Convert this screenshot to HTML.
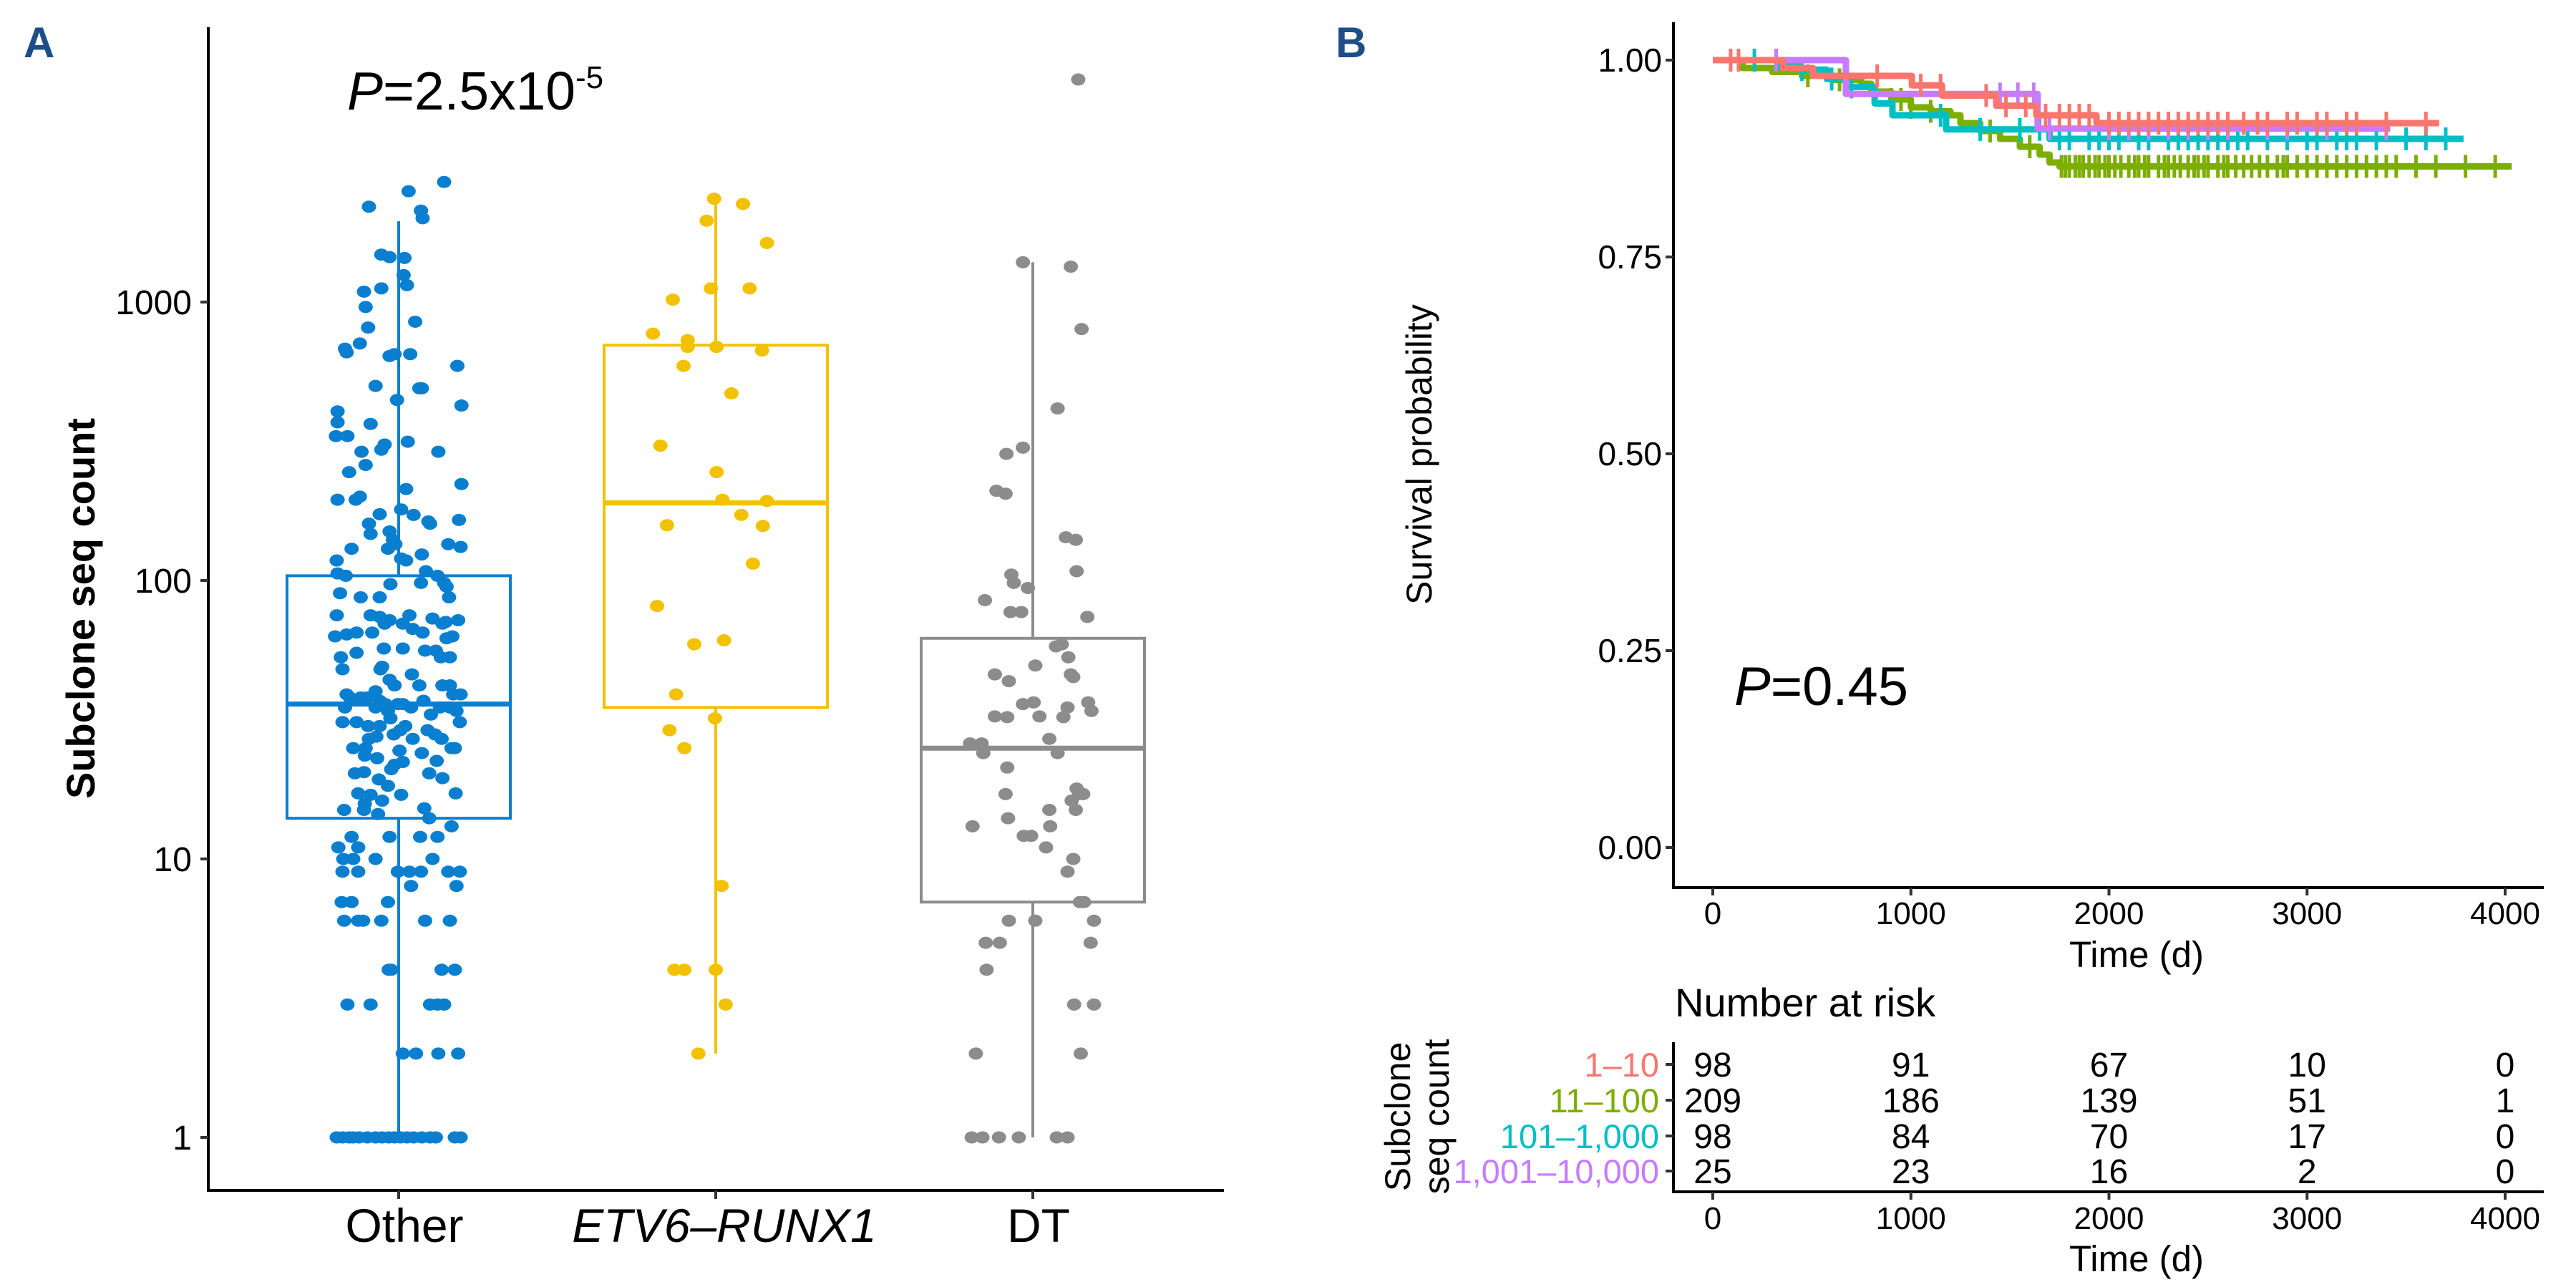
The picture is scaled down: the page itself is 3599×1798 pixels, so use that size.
<!DOCTYPE html>
<html><head><meta charset="utf-8"><style>
html,body{margin:0;padding:0;background:#fff;}
svg{display:block;font-family:"Liberation Sans",Arial,sans-serif;}
</style></head><body>
<svg id="fig" width="3599" height="1798" viewBox="0 0 3599 1798" xmlns="http://www.w3.org/2000/svg">
<rect width="3599" height="1798" fill="#fff"/>
<text x="33" y="80" font-size="60" font-weight="bold" fill="#1d4e89" font-family="Liberation Sans,sans-serif">A</text>
<text x="1866" y="80" font-size="60" font-weight="bold" fill="#1d4e89" font-family="Liberation Sans,sans-serif">B</text>
<g id="panelA"></g>
<g id="panelB"></g>
<g id="risk"></g>
</svg>
<script>
// ---------- Panel A data ----------
const categories = ["Other","ETV6\u2013RUNX1","DT"];
const catColors = ["#0a7fd0","#f2c200","#8c8c8c"];
const yTicks = [1,10,100,1000];
// box stats: [whiskerLow, q1, median, q3, whiskerHigh]
const boxOther = [1,14,36,104,1950];
const boxEtv = [2,35,190,700,2340];
const boxDt = [1,7,25,62,1390];
const otherValues = [2700,2500,2200,2130,2000,1480,1450,1440,1250,1150,1120,1090,960,850,810,710,680,660,650,650,640,590,500,490,490,445,425,405,370,365,315,330,330,308,295,290,290,260,245,222,213,195,200,195,180,173,172,165,163,160,160,147,150,135,140,132,130,130,135,124,120,118,118,108,106,104,104,97,98,98,95,90,87,87,87,75,75,74,75,73,72,72,70,71,70,70,67,65,65,64,65,63,63,62,57,57,56,56,55,53,53,53,49,48,48,46,44,42,42,42,42,40,39,39,39,38,38,38,37,37,36,36,36,35,35,35,35,35,34,34,32,33,31,31,31,30,30,29,29,28,30,28,27,27,27,27.5,25,25,25,25,24,24.5,23.5,23,22.5,22.3,21.8,21,20.5,20.3,20.3,19.5,19.3,18.3,17.2,17.2,17,17,16.2,15.8,15.2,15,15,14.5,14,13.1,12,12,12,12,11,11,10,10,10,10,9,9,9,9,9,9,9,8,8,7,7,7,6,6,6,6,6,6,4,4,4,4,3,3,3,3,3,2,2,2,2,1,1,1,1,1,1,1,1,1,1,1,1,1,1,1,1,1,1];
const otherJitter = [55,12,-36,27,29,-21,-11,7,6,10,-21,-42,-40,20,-37,-47,-65,-63,-5,14,-11,71,-28,25,28,-2,76,-74,-74,-34,11,-76,-62,-17,-21,-45,48,-40,-60,76,9,-74,-47,-52,3,-23,18,73,36,38,-36,-34,-11,60,-7,75,-57,-13,-4,28,3,9,-75,33,-74,-64,47,-10,27,55,58,-71,61,-46,-23,-34,-75,-23,13,41,72,-11,53,57,-17,5,17,29,-51,-63,-32,-77,65,58,-18,5,32,45,-51,-70,51,62,-20,-22,-68,16,-11,25,53,-5,62,-28,66,-63,75,-46,-39,-59,30,-23,-16,-1,5,62,50,-28,15,-65,70,-13,-10,39,-68,74,-51,-23,8,2,35,44,-37,-6,-36,17,52,-27,-55,-40,64,68,28,1,-41,-26,46,5,-5,-9,-42,-53,37,53,-24,-13,69,-49,-34,3,-20,-41,31,-66,-42,-25,37,64,-57,26,47,-11,-73,-49,-67,-55,-28,41,-1,13,27,-68,-49,60,74,15,70,-69,-57,-13,-66,-49,-43,-21,32,62,-12,-9,52,68,-62,-34,38,47,55,5,21,48,72,-75,-68,-60,-55,-48,-38,-28,-20,-12,-5,2,10,18,28,38,45,68,75];
const etvValues = [2350,2250,1960,1630,1120,1120,1020,770,730,690,690,670,590,470,305,245,195,193,172,158,157,115,81,61,59,39,32,29,25,8,4,4,4,3,2];
const etvJitter = [-2,33,-11,62,41,-6,-52,-76,-34,-34,1,56,-39,19,-67,1,8,62,31,-59,57,45,-71,10,-26,-48,-1,-56,-38,7,-50,-38,0,12,-21];
const dtValues = [6300,1390,1340,800,415,300,285,210,205,143,140,108,105,98,94,85,77,77,74,58,59,53,49.5,46,46,45,43.5,36.5,36,36.5,35,34,32.5,32.3,32.5,32.3,27,26,26,24,24,21.3,17.9,17.1,17.1,17.1,16.2,15,15,14,13.1,13.1,12.1,12.1,11,10,9,7,7,6,6,6,5,5,5,4,3,3,2,2,1,1,1,1,1,1];
const dtJitter = [55,-12,46,59,30,-12,-32,-44,-33,40,52,53,-26,-23,-6,-58,-14,-27,66,28,35,43,3,-46,46,49,-29,1,-12,67,42,71,-46,-31,8,37,20,-76,-62,-60,30,-31,53,56,61,-33,47,52,20,-30,-73,21,-11,-2,16,49,42,62,57,-29,3,74,-57,-40,70,-56,50,74,-69,58,-74,-61,-41,-17,29,42];

// ---------- Panel B data ----------
const groups = ["1\u201310","11\u2013100","101\u20131,000","1,001\u201310,000"];
const groupColors = ["#F8766D","#7CAE00","#00BFC4","#C77CFF"];
const redTimes = [0,354,506,1005,1157,1431,1633,1937];
const redSurv = [1,0.99,0.98,0.968,0.955,0.942,0.93,0.92];
const greenTimes = [0,150,300,450,600,750,800,900,1000,1100,1200,1250,1350,1450,1550,1650,1700,1750];
const greenSurv = [1,0.99,0.985,0.98,0.975,0.97,0.96,0.95,0.94,0.935,0.93,0.92,0.91,0.90,0.89,0.88,0.87,0.865];
const cyanTimes = [0,325,437,575,672,817,907,1178,1700];
const cyanSurv = [1,0.992,0.988,0.976,0.966,0.945,0.93,0.912,0.90];
const purpleTimes = [0,672,1640];
const purpleSurv = [1,0.957,0.913];
const endTimes = [3667,4033,3790,3420];
const redCensor = [90,130,830,1050,1150,1380,1480,1580,1680,1750,1800,1850,1900,2000,2050,2100,2150,2200,2250,2300,2350,2400,2450,2500,2550,2600,2680,2750,2800,2900,2950,3050,3100,3200,3250,3400,3600];
const greenCensor = [480,640,900,950,1000,1100,1400,1600,1760,1780,1800,1830,1850,1870,1900,1930,1950,1980,2000,2030,2060,2100,2130,2150,2180,2200,2250,2280,2300,2330,2360,2400,2430,2450,2480,2500,2550,2580,2600,2640,2680,2720,2760,2800,2850,2880,2900,2950,3000,3050,3100,3150,3200,3250,3300,3350,3400,3450,3550,3650,3800,3950];
const cyanCensor = [210,320,450,600,700,1150,1350,1550,1650,1750,1800,1900,1950,2000,2050,2150,2200,2300,2350,2400,2450,2500,2550,2600,2650,2700,2800,2900,3000,3050,3150,3200,3250,3350,3500,3600,3700];
const purpleCensor = [320,1450,1540,1620,1700,2000,2100,2200,2300,2400,2500,2600,2800,2900,3100,3400];
const survTicks = [0,0.25,0.5,0.75,1];
const timeTicks = [0,1000,2000,3000,4000];
const riskRed = [98,91,67,10,0];
const riskGreen = [209,186,139,51,1];
const riskCyan = [98,84,70,17,0];
const riskPurple = [25,23,16,2,0];

const NS="http://www.w3.org/2000/svg";
function mk(parent,tag,attrs,text){const e=document.createElementNS(NS,tag);for(const k in attrs)e.setAttribute(k,attrs[k]);if(text!==undefined)e.textContent=text;parent.appendChild(e);return e;}

// ---------- Panel A ----------
const A=document.getElementById('panelA');
const yA=v=>1589-389*Math.log10(v);
const xA=i=>557+i*443;
const jitterScale=1.154;
let el;
el=mk(A,'line',{x1:291,y1:38,x2:291,y2:1664,stroke:'#000','stroke-width':4});


el=mk(A,'line',{x1:289,y1:1663,x2:1710,y2:1663,stroke:'#000','stroke-width':4});


yTicks.forEach(v=>{
  el=mk(A,'line',{x1:280,y1:yA(v),x2:291,y2:yA(v),stroke:'#333','stroke-width':4});
  
  
  el=mk(A,'text',{x:268,y:yA(v)+17,'font-size':48,'text-anchor':'end',fill:'#000'},String(v));
  
  
});
el=mk(A,'text',{x:0,y:0,'font-size':56,'font-weight':'bold','text-anchor':'middle',transform:'translate(132,850) rotate(-90)'},'Subclone seq count');


const labX=[565,1012,1451];
categories.forEach((c,i)=>{
  el=mk(A,'line',{x1:xA(i),y1:1663,x2:xA(i),y2:1675,stroke:'#333','stroke-width':4});
  
  
  el=mk(A,'text',{x:labX[i],y:1735,'font-size':66,'text-anchor':'middle','font-style':i===1?'italic':'normal'},c);
  
  
});
const boxes=[boxOther,boxEtv,boxDt];
boxes.forEach((b,i)=>{
  const cx=xA(i),col=catColors[i],hw=156;
  el=mk(A,'line',{x1:cx,y1:yA(b[0]),x2:cx,y2:yA(b[1]),stroke:col,'stroke-width':4});
  
  
  el=mk(A,'line',{x1:cx,y1:yA(b[3]),x2:cx,y2:yA(b[4]),stroke:col,'stroke-width':4});
  
  
  el=mk(A,'rect',{x:cx-hw,y:yA(b[3]),width:2*hw,height:yA(b[1])-yA(b[3]),fill:'none',stroke:col,'stroke-width':4});
  
  
  el=mk(A,'line',{x1:cx-hw,y1:yA(b[2]),x2:cx+hw,y2:yA(b[2]),stroke:col,'stroke-width':7});
  
  
});
[[otherValues,otherJitter],[etvValues,etvJitter],[dtValues,dtJitter]].forEach((p,i)=>{
  p[0].forEach((v,k)=>{
    el=mk(A,'ellipse',{cx:xA(i)+p[1][k]*jitterScale,cy:yA(v),rx:10,ry:8.5,fill:catColors[i]});
    
    
  });
});
el=mk(A,'text',{x:485,y:153,'font-size':75},'');


mk(el,'tspan',{'font-style':'italic'},'P');
mk(el,'tspan',{},'=2.5x10');
mk(el,'tspan',{'font-size':44,dy:-30},'-5');

// ---------- Panel B ----------
const B=document.getElementById('panelB');
const xB=t=>2393+t*0.27675;
const yB=s=>1184-s*1100;
el=mk(B,'line',{x1:2338,y1:31,x2:2338,y2:1242,stroke:'#000','stroke-width':4});


el=mk(B,'line',{x1:2336,y1:1240,x2:3554,y2:1240,stroke:'#000','stroke-width':4});


survTicks.forEach(s=>{
  el=mk(B,'line',{x1:2327,y1:yB(s),x2:2338,y2:yB(s),stroke:'#333','stroke-width':4});
  
  
  el=mk(B,'text',{x:2322,y:yB(s)+16,'font-size':46,'text-anchor':'end'},s.toFixed(2));
  
  
});
timeTicks.forEach(t=>{
  el=mk(B,'line',{x1:xB(t),y1:1240,x2:xB(t),y2:1251,stroke:'#333','stroke-width':4});
  
  
  el=mk(B,'text',{x:xB(t),y:1291,'font-size':44,'text-anchor':'middle'},String(t));
  
  
});
el=mk(B,'text',{x:2985,y:1351,'font-size':51,'text-anchor':'middle'},'Time (d)');


el=mk(B,'text',{x:0,y:0,'font-size':50,'text-anchor':'middle',transform:'translate(2000,635) rotate(-90)'},'Survival probability');


el=mk(B,'text',{x:2423,y:985,'font-size':76},'');


mk(el,'tspan',{'font-style':'italic'},'P');
mk(el,'tspan',{},'=0.45');

const curves=[[redTimes,redSurv,redCensor],[greenTimes,greenSurv,greenCensor],[cyanTimes,cyanSurv,cyanCensor],[purpleTimes,purpleSurv,purpleCensor]];
const drawOrder=[1,2,3,0];
drawOrder.forEach(g=>{
  const [T,S,C]=curves[g],col=groupColors[g];
  let d='M'+xB(T[0])+','+yB(S[0]);
  for(let k=1;k<T.length;k++){d+=' H'+xB(T[k])+' V'+yB(S[k]);}
  d+=' H'+xB(endTimes[g]);
  el=mk(B,'path',{d:d,fill:'none',stroke:col,'stroke-width':9,'stroke-linejoin':'round'});
  
  
  const sAt=t=>{let s=S[0];for(let k=0;k<T.length;k++){if(T[k]<=t)s=S[k];}return s;};
  C.forEach(t=>{
    const x=xB(t),y=yB(sAt(t));
    el=mk(B,'line',{x1:x,y1:y-16,x2:x,y2:y+16,stroke:col,'stroke-width':5});
    
    
  });
});

// ---------- Risk table ----------
const R=document.getElementById('risk');
const rowY=[1487,1537,1587,1636];
el=mk(R,'text',{x:2340,y:1420,'font-size':56},'Number at risk');


el=mk(R,'line',{x1:2338,y1:1456,x2:2338,y2:1667,stroke:'#000','stroke-width':4});


el=mk(R,'line',{x1:2336,y1:1665,x2:3554,y2:1665,stroke:'#000','stroke-width':4});


const riskRows=[riskRed,riskGreen,riskCyan,riskPurple];
groups.forEach((g,i)=>{
  el=mk(R,'line',{x1:2327,y1:rowY[i],x2:2338,y2:rowY[i],stroke:'#333','stroke-width':4});
  
  
  el=mk(R,'text',{x:2318,y:rowY[i]+17,'font-size':47,'text-anchor':'end',fill:groupColors[i]},g);
  
  
  riskRows[i].forEach((n,k)=>{
    el=mk(R,'text',{x:xB(timeTicks[k]),y:rowY[i]+17,'font-size':48,'text-anchor':'middle'},String(n));
    
    
  });
});
timeTicks.forEach(t=>{
  el=mk(R,'line',{x1:xB(t),y1:1665,x2:xB(t),y2:1676,stroke:'#333','stroke-width':4});
  
  
  el=mk(R,'text',{x:xB(t),y:1717,'font-size':44,'text-anchor':'middle'},String(t));
  
  
});
el=mk(R,'text',{x:2985,y:1776,'font-size':51,'text-anchor':'middle'},'Time (d)');


el=mk(R,'text',{x:0,y:0,'font-size':50,'text-anchor':'middle',transform:'translate(1970,1560) rotate(-90)'},'Subclone');


el=mk(R,'text',{x:0,y:0,'font-size':50,'text-anchor':'middle',transform:'translate(2024,1560) rotate(-90)'},'seq count');


</script>
</body></html>
